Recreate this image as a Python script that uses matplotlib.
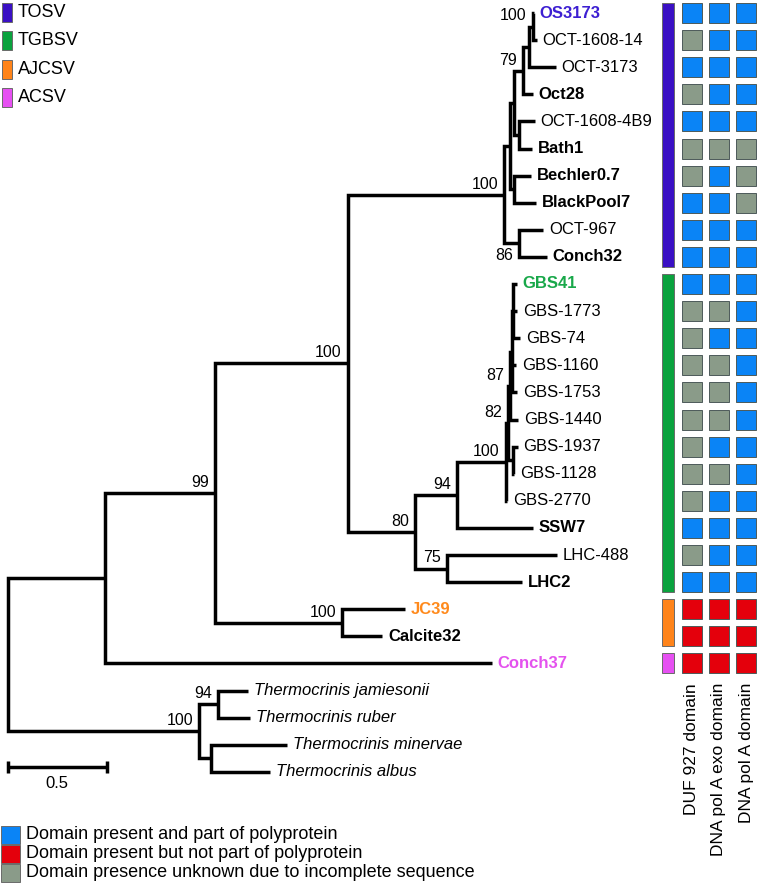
import matplotlib
matplotlib.use("Agg")
import matplotlib.pyplot as plt
from matplotlib.patches import Rectangle

plt.rcParams['font.family'] = ['Liberation Sans', 'DejaVu Sans']

# leaves, top to bottom
leaves = ['OS3173', 'OCT-1608-14', 'OCT-3173', 'Oct28', 'OCT-1608-4B9', 'Bath1',
          'Bechler0.7', 'BlackPool7', 'OCT-967', 'Conch32',
          'GBS41', 'GBS-1773', 'GBS-74', 'GBS-1160', 'GBS-1753', 'GBS-1440',
          'GBS-1937', 'GBS-1128', 'GBS-2770', 'SSW7', 'LHC-488', 'LHC2',
          'JC39', 'Calcite32', 'Conch37',
          'Thermocrinis jamiesonii', 'Thermocrinis ruber',
          'Thermocrinis minervae', 'Thermocrinis albus']

# tree edges: child, parent, branch length (substitutions/site)
edge_child = ['N1', 'T', 'U1', 'Conch37', 'M', 'JC', 'A', 'N', 'K', 'B', 'I', 'L',
              'H', 'J', 'G', 'Oct28', 'F', 'OCT-3173', 'OS3173', 'OCT-1608-14',
              'OCT-1608-4B9', 'Bath1', 'Bechler0.7', 'BlackPool7', 'OCT-967', 'Conch32',
              'O', 'P', 'Q', 'SSW7', 'R', 'GBS-2770', 'W', 'V2', 'X', 'GBS-1440',
              'Y', 'GBS-1160', 'GBS-1753', 'GBS41', 'GBS-1773', 'GBS-74',
              'GBS-1937', 'GBS-1128', 'LHC-488', 'LHC2', 'JC39', 'Calcite32',
              'T1', 'T2', 'Thermocrinis jamiesonii', 'Thermocrinis ruber',
              'Thermocrinis minervae', 'Thermocrinis albus']
edge_parent = ['root', 'root', 'N1', 'N1', 'U1', 'U1', 'M', 'M', 'A', 'A', 'K', 'K',
               'I', 'I', 'H', 'H', 'G', 'G', 'F', 'F',
               'J', 'J', 'L', 'L', 'B', 'B',
               'N', 'N', 'O', 'O', 'Q', 'Q', 'R', 'R', 'W', 'W',
               'X', 'X', 'X', 'Y', 'Y', 'Y',
               'V2', 'V2', 'P', 'P', 'JC', 'JC',
               'T', 'T', 'T1', 'T1', 'T2', 'T2']
edge_length = [0.492, 0.970, 0.558, 1.964, 0.675, 0.645, 0.792, 0.340, 0.030, 0.076,
               0.020, 0.020, 0.046, 0.025, 0.030, 0.051, 0.020, 0.137, 0.005, 0.020,
               0.081, 0.066, 0.086, 0.112, 0.122, 0.142,
               0.213, 0.162, 0.249, 0.386, 0.010, 0.005, 0.010, 0.025, 0.010, 0.041,
               0.005, 0.020, 0.025, 0.020, 0.020, 0.036,
               0.025, 0.005, 0.558, 0.381, 0.320, 0.203,
               0.096, 0.061, 0.152, 0.162, 0.386, 0.299]

# bootstrap support
support = {'F': 100, 'H': 79, 'A': 100, 'B': 86, 'M': 100, 'U1': 99, 'N': 80,
           'O': 94, 'Q': 100, 'R': 82, 'W': 87, 'P': 75, 'JC': 100, 'T': 100, 'T1': 94}
support_below = ['B']

bold_leaves = ['OS3173', 'Oct28', 'Bath1', 'Bechler0.7', 'BlackPool7', 'Conch32',
               'GBS41', 'SSW7', 'LHC2', 'JC39', 'Calcite32', 'Conch37']
leaf_colors = {'OS3173': '#3d1fd2', 'GBS41': '#19a84a', 'JC39': '#ff8a1c', 'Conch37': '#e452ee'}

# domain annotation: B = present in polyprotein, R = present not polyprotein, G = unknown
domains = ['DUF 927 domain', 'DNA pol A exo domain', 'DNA pol A domain']
duf927 = list('BGBGBGGBBBBGGGGGGGGBGBRRR')
pol_exo = list('BBBBBGBBBBBGBGGGBGBBBBRRR')
pol_a = list('BBBBBGGGBBBBBBBBBBBBBBRRR')
state_colors = {'B': '#0a84f6', 'R': '#e4000c', 'G': '#8a9b89'}
state_labels = ['Domain present and part of polyprotein',
                'Domain present but not part of polyprotein',
                'Domain presence unknown due to incomplete sequence']

groups = ['TOSV', 'TGBSV', 'AJCSV', 'ACSV']
group_first = [0, 10, 22, 24]
group_last = [9, 21, 23, 24]
group_colors = ['#3a10c4', '#0aa23e', '#ff841a', '#e650f2']

# ---- layout ----
fig = plt.figure(figsize=(7.58, 8.84), dpi=100)
W_PX, H_PX = 758, 884
PX_UNIT = 197.0      # pixels per branch-length unit
ROW_PX = 27.1
ROW0_PX = 13.0
X0_PX = 8.0

ax = fig.add_axes([0, 0, 1, 1])
ax.set_xlim(-X0_PX / PX_UNIT, (W_PX - X0_PX) / PX_UNIT)
ax.set_ylim((H_PX - ROW0_PX) / ROW_PX, -ROW0_PX / ROW_PX)
ax.axis('off')

# positions
xpos = {'root': 0.0}
children = {}
for c, p, l in zip(edge_child, edge_parent, edge_length):
    children.setdefault(p, []).append(c)
order = ['root']
i = 0
while i < len(order):
    for c in children.get(order[i], []):
        order.append(c)
    i += 1
plen = dict(zip(edge_child, edge_length))
parent_of = dict(zip(edge_child, edge_parent))
for n in order[1:]:
    xpos[n] = xpos[parent_of[n]] + plen[n]

ypos = {name: k for k, name in enumerate(leaves)}
for n in reversed(order):
    if n in children:
        ys = [ypos[c] for c in children[n]]
        ypos[n] = (min(ys) + max(ys)) / 2

lw = 2.5
for n, kids in children.items():
    kids = sorted(kids, key=lambda c: ypos[c])
    top, bot = kids[0], kids[-1]
    ax.plot([xpos[top], xpos[n], xpos[n], xpos[bot]],
            [ypos[top], ypos[top], ypos[bot], ypos[bot]],
            color='black', lw=lw, solid_joinstyle='miter', solid_capstyle='butt')
    for c in kids[1:-1]:
        ax.plot([xpos[n], xpos[c]], [ypos[c], ypos[c]], color='black', lw=lw,
                solid_capstyle='butt')

for name in leaves:
    style = 'italic' if name.startswith('Thermocrinis') else 'normal'
    weight = 'bold' if name in bold_leaves else 'normal'
    ax.annotate(name, (xpos[name], ypos[name]), xytext=(4.3, 0), textcoords='offset points',
                ha='left', va='center', fontsize=12, fontstyle=style, fontweight=weight,
                color=leaf_colors.get(name, 'black'))

for n, s in support.items():
    if n in support_below:
        ax.annotate(str(s), (xpos[n], ypos[n]), xytext=(-4.3, -3), textcoords='offset points',
                    ha='right', va='top', fontsize=11.5)
    else:
        ax.annotate(str(s), (xpos[n], ypos[n]), xytext=(-4.3, 2.2), textcoords='offset points',
                    ha='right', va='bottom', fontsize=11.5)

# scale bar
bar_row = (767 - ROW0_PX) / ROW_PX
ax.plot([0, 0.5], [bar_row, bar_row], color='black', lw=lw, solid_capstyle='butt')
for xb in [0, 0.5]:
    ax.plot([xb, xb], [bar_row - 0.22, bar_row + 0.22], color='black', lw=lw,
            solid_capstyle='butt')
ax.text(0.25, (783 - ROW0_PX) / ROW_PX, '0.5', ha='center', va='center', fontsize=12)

# ---- domain squares ----
hx0, hx1 = 650, 758
COL_PX = 27.0
axh = fig.add_axes([hx0 / W_PX, 0, (hx1 - hx0) / W_PX, 1], sharey=ax)
axh.set_xlim((hx0 - 692) / COL_PX, (hx1 - 692) / COL_PX)
axh.axis('off')
sq_w = 20 / COL_PX
sq_h = 20 / ROW_PX
for col, states in enumerate([duf927, pol_exo, pol_a]):
    for row, st in enumerate(states):
        axh.add_patch(Rectangle((col - sq_w / 2, row - sq_h / 2), sq_w, sq_h,
                                facecolor=state_colors[st], edgecolor='#4d5a5a', lw=0.7))
    axh.text(col, (683 - ROW0_PX) / ROW_PX, domains[col], rotation=90, ha='center',
             va='top', fontsize=12.5)

bar_x = (668 - 692) / COL_PX
bar_w = 12 / COL_PX
for g, r0, r1, c in zip(groups, group_first, group_last, group_colors):
    axh.add_patch(Rectangle((bar_x - bar_w / 2, r0 - sq_h / 2), bar_w, r1 - r0 + sq_h,
                            facecolor=c, edgecolor='#6a6a6a', lw=0.7))

# ---- legends (pixel coords) ----
axl = fig.add_axes([0, 0, 1, 1])
axl.set_xlim(0, W_PX)
axl.set_ylim(H_PX, 0)
axl.axis('off')
axl.patch.set_alpha(0)
for k, (g, c) in enumerate(zip(groups, group_colors)):
    yc = 12.5 + 28.4 * k
    axl.add_patch(Rectangle((2, yc - 9.5), 10, 19, facecolor=c, edgecolor='#6a6a6a', lw=0.7))
    axl.text(18, yc, g, ha='left', va='center', fontsize=13)
for k, (lab, st) in enumerate(zip(state_labels, ['B', 'R', 'G'])):
    yc = 834.5 + 19 * k
    axl.add_patch(Rectangle((1, yc - 9), 19, 18, facecolor=state_colors[st],
                            edgecolor='#6a6a6a', lw=0.7))
    axl.text(26, yc, lab, ha='left', va='center', fontsize=13)

fig.savefig('out.png', dpi=100)
